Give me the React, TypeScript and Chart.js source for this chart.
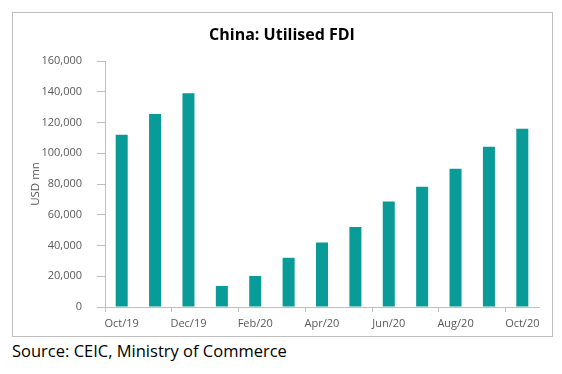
import React, { useEffect, useRef } from "react";
import { Chart, registerables } from "chart.js";

Chart.register(...registerables);

const categories = [
  "Oct/19", "Nov/19", "Dec/19", "Jan/20", "Feb/20", "Mar/20", "Apr/20",
  "May/20", "Jun/20", "Jul/20", "Aug/20", "Sep/20", "Oct/20",
];
const fdiValues = [
  112000, 125500, 139000, 13700, 20200, 32000, 42000,
  52000, 68600, 78200, 90000, 104200, 116000,
];
const yTicks = [0, 20000, 40000, 60000, 80000, 100000, 120000, 140000, 160000];

const TEAL = "#089B98";
const GREY_TEXT = "#595959";
const AXIS = "#BFBFBF";
const FONT = "'Open Sans', 'DejaVu Sans', sans-serif";

export default function App() {
  const ref = useRef<HTMLCanvasElement | null>(null);

  useEffect(() => {
    if (!ref.current) return;
    const chart = new Chart(ref.current, {
      type: "bar",
      data: {
        labels: categories,
        datasets: [
          {
            data: fdiValues,
            backgroundColor: TEAL,
            borderWidth: 0,
            barPercentage: 0.36,
            categoryPercentage: 1.0,
          },
        ],
      },
      options: {
        responsive: false,
        animation: false,
        devicePixelRatio: 1,
        layout: { padding: { left: 0, right: 13, top: 48, bottom: 0 } },
        plugins: {
          legend: { display: false },
          tooltip: { enabled: false },
          title: { display: false },
        },
        scales: {
          x: {
            grid: {
              offset: true,
              drawOnChartArea: false,
              drawTicks: true,
              tickLength: 5,
              color: (ctx: any) => (ctx.index % 2 === 0 ? AXIS : "rgba(0,0,0,0)"),
            },
            border: { display: true, color: AXIS, width: 1 },
            ticks: {
              autoSkip: false,
              maxRotation: 0,
              color: GREY_TEXT,
              padding: 5,
              font: { family: FONT, size: 11 },
              callback: (_v: any, i: number) => (i % 2 === 0 ? categories[i] : ""),
            },
            afterFit: (scale: any) => {
              scale.height = 29;
            },
          },
          y: {
            min: 0,
            max: 160000,
            afterBuildTicks: (scale: any) => {
              scale.ticks = yTicks.map((v) => ({ value: v }));
            },
            grid: {
              drawOnChartArea: false,
              drawTicks: true,
              tickLength: 8,
              color: AXIS,
            },
            border: { display: true, color: AXIS, width: 1 },
            ticks: {
              color: GREY_TEXT,
              padding: 15,
              font: { family: FONT, size: 11 },
              callback: (v: any) => Number(v).toLocaleString("en-US"),
            },
            title: {
              display: true,
              text: "USD mn",
              color: GREY_TEXT,
              font: { family: FONT, size: 11.5 },
              padding: { top: 16, bottom: 0 },
            },
            afterFit: (scale: any) => {
              scale.width = 92;
            },
          },
        },
      },
    });
    return () => chart.destroy();
  }, []);

  return (
    <div style={{ position: "relative", width: 546, height: 360 }}>
      <div
        style={{
          position: "absolute",
          left: 4,
          top: 4,
          width: 541,
          height: 325,
          border: "1px solid #BFBFBF",
          boxSizing: "border-box",
        }}
      >
        <canvas ref={ref} width={539} height={323} style={{ display: "block" }} />
      </div>
      <div
        style={{
          position: "absolute",
          left: 0,
          top: 16,
          width: 548,
          lineHeight: "20px",
          textAlign: "center",
          fontFamily: FONT,
          fontSize: 16,
          fontWeight: "bold",
          color: "#000000",
          whiteSpace: "nowrap",
        }}
      >
        China: Utilised FDI
      </div>
      <div
        style={{
          position: "absolute",
          left: 4,
          top: 331,
          fontFamily: FONT,
          fontSize: 16.5,
          color: "#000000",
          whiteSpace: "nowrap",
        }}
      >
        Source: CEIC, Ministry of Commerce
      </div>
    </div>
  );
}
